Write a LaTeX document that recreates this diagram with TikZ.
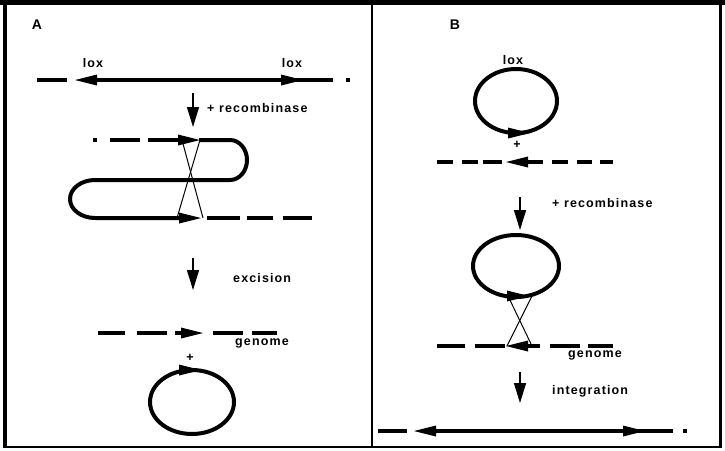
\documentclass[tikz,border=0pt]{standalone}
\usepackage{fontspec}
\setmainfont{Liberation Sans}
\usetikzlibrary{arrows.meta}
\begin{document}
\begin{tikzpicture}[x=1pt,y=-1pt,
  dna/.style={line width=4pt},
  xline/.style={line width=1pt},
  frame/.style={line width=#1},
  down/.style={line width=1.5pt,-{Triangle[length=20pt,width=12pt]}},
  lbl/.style={font=\fontsize{12.5}{15}\selectfont\bfseries\addfontfeature{LetterSpace=9},inner sep=0pt,anchor=west},
  clbl/.style={font=\fontsize{12.5}{15}\selectfont\bfseries\addfontfeature{LetterSpace=9},inner sep=0pt},
  plbl/.style={font=\fontsize{14}{16}\selectfont\bfseries,inner sep=0pt},
  rhead/.pic={\fill (-11,-5.5) -- (11,0) -- (-11,5.5) -- cycle;},
  lhead/.pic={\fill (11,-5.5) -- (-11,0) -- (11,5.5) -- cycle;},
  dot/.pic={\fill (-2.2,-2.2) rectangle (2.2,2.2);},
]
\useasboundingbox (0,0) rectangle (725,450);
\fill[white] (0,0) rectangle (725,450);
% frame
\draw[frame=5pt] (0,2.5) -- (725,2.5);
\draw[frame=4pt] (5,0) -- (5,448);
\draw[frame=2pt] (4,447) -- (722,447);
\draw[frame=3pt] (720.5,0) -- (720.5,448);
\draw[frame=2pt] (372,0) -- (372,447);

% ---------------- Panel A ----------------
\node[plbl] (labA) at (37,25) {A};
\node[clbl] (loxA1) at (93,63) {lox};
\node[clbl] (loxA2) at (292,63) {lox};
\draw[dna] (37,80) -- (67,80);
\pic at (86,80) {lhead};
\draw[dna] (96,80) -- (333,80);
\pic at (292,80) {rhead};
\pic at (348,80) {dot};

\coordinate (a1s) at (193,93);
\coordinate (a1e) at (193,127);
\draw[down] (a1s) -- (a1e);
\node[lbl] (rec1) at (207,108) {+ recombinase};

% folded structure
\pic at (95,140) {dot};
\draw[dna] (110,140) -- (140,140) (148,140) -- (178,140);
\pic at (189,140) {rhead};
\draw[dna] (199,140) -- (230,140)
  arc[start angle=-90,end angle=90,x radius=17,y radius=20]
  -- (95,180)
  arc[start angle=270,end angle=90,x radius=25,y radius=19]
  -- (180,218);
\pic at (190,218) {rhead};
\draw[dna] (207,218) -- (240,218) (247,218) -- (273,218) (283,218) -- (312,218);
\coordinate (xa1) at (182,140);
\coordinate (xa2) at (203,218);
\coordinate (xa3) at (200,140);
\coordinate (xa4) at (177,218);
\draw[xline] (xa1) -- (xa2);
\draw[xline] (xa3) -- (xa4);

\coordinate (a2s) at (193,258);
\coordinate (a2e) at (193,290);
\draw[down] (a2s) -- (a2e);
\node[lbl] (exc) at (233,278) {excision};

\draw[dna] (98,333) -- (125,333) (137,333) -- (167,333) (175,333) -- (182,333);
\pic at (192,333) {rhead};
\draw[dna] (213,333) -- (243,333) (252,333) -- (277,333);
\node[lbl] (genA) at (235,343) {genome};
\node[clbl] (plusA) at (190,358) {+};
\draw[dna] (192,402) ellipse[x radius=42,y radius=32];
\pic at (190,370) {rhead};

% ---------------- Panel B ----------------
\node[plbl] (labB) at (455,25) {B};
\node[clbl] (loxB) at (513,60) {lox};
\draw[dna] (516,101) ellipse[x radius=41,y radius=32];
\pic at (519,133) {rhead};
\node[clbl] (plusB) at (517,145) {+};
\draw[dna] (437,162) -- (453,162) (462,162) -- (478,162) (483,162) -- (502,162)
  (528,162) -- (543,162) (552,162) -- (568,162) (577,162) -- (592,162) (600,162) -- (613,162);
\pic at (517,162) {lhead};

\coordinate (b1s) at (520,197);
\coordinate (b1e) at (520,230);
\draw[down] (b1s) -- (b1e);
\node[lbl] (rec2) at (552,203) {+ recombinase};

\draw[dna] (516,266) ellipse[x radius=43,y radius=31];
\pic at (518,296) {rhead};
\coordinate (xb1) at (508,296);
\coordinate (xb2) at (532,346);
\coordinate (xb3) at (532,296);
\coordinate (xb4) at (507,346);
\draw[xline] (xb1) -- (xb2);
\draw[xline] (xb3) -- (xb4);
\draw[dna] (437,346) -- (465,346) (475,346) -- (505,346) (528,346) -- (540,346)
  (550,346) -- (580,346) (588,346) -- (613,346);
\pic at (517,346) {lhead};
\node[lbl] (genB) at (568,355) {genome};

\coordinate (b2s) at (520,372);
\coordinate (b2e) at (520,403);
\draw[down] (b2s) -- (b2e);
\node[lbl] (integ) at (552,391) {integration};

\draw[dna] (378,431) -- (407,431);
\pic at (425,431) {lhead};
\draw[dna] (435,431) -- (673,431);
\pic at (634,431) {rhead};
\pic at (685,431) {dot};
\end{tikzpicture}
\end{document}
